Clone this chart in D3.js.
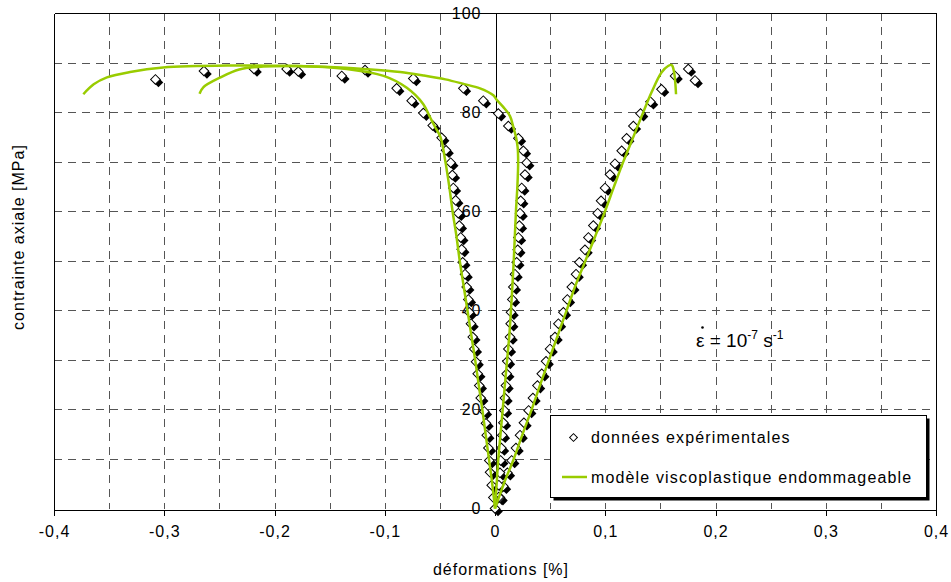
<!DOCTYPE html>
<html>
<head>
<meta charset="utf-8">
<script src="https://cdn.jsdelivr.net/npm/d3@7"></script>
<style>
html,body{margin:0;padding:0;background:#fff;}
svg text{font-family:"Liberation Sans",Arial,sans-serif;fill:#000;}
</style>
</head>
<body>
<svg id="chart" width="951" height="582"></svg>
<script>
// ---------- data ----------
const xTicks = [-0.4, -0.3, -0.2, -0.1, 0, 0.1, 0.2, 0.3, 0.4];
const yTicks = [0, 20, 40, 60, 80, 100];
const xGrid = [-0.35, -0.3, -0.25, -0.2, -0.15, -0.1, -0.05, 0.05, 0.1, 0.15, 0.2, 0.25, 0.3, 0.35];
const yGrid = [10, 20, 30, 40, 50, 60, 70, 80, 90];

// experimental points: axial branch
const expAxialStrain = [0, 0.0045, 0.0076, 0.0112, 0.0151, 0.019, 0.0227, 0.0262, 0.0305, 0.0344, 0.0385, 0.0424, 0.0463, 0.0499, 0.0544, 0.0575, 0.062, 0.0656, 0.0696, 0.0735, 0.0765, 0.0816, 0.0847, 0.0892, 0.0931, 0.0962, 0.0998, 0.1043, 0.1088, 0.1149, 0.1194, 0.1255, 0.132, 0.141, 0.151, 0.1633, 0.1753, 0.1814];
const expAxialStress = [0, 2.2, 4.5, 7.2, 9.7, 12.2, 14.8, 17.3, 19.8, 22.3, 24.8, 27.2, 29.7, 32.2, 34.6, 37.3, 39.6, 42.2, 44.7, 47.3, 49.7, 52.2, 54.7, 57.1, 59.6, 62.1, 64.7, 67.4, 69.6, 72.2, 74.7, 77.2, 79.7, 82.1, 84.6, 87.3, 88.7, 86.4];
// experimental points: volumetric branch
const expVolStrain = [0.0035, 0.0035, 0.0045, 0.0051, 0.0058, 0.0066, 0.0076, 0.0085, 0.009, 0.0099, 0.0106, 0.0112, 0.0121, 0.0136, 0.0142, 0.0145, 0.0157, 0.0166, 0.0181, 0.0197, 0.0206, 0.0212, 0.0221, 0.0227, 0.0233, 0.0242, 0.0272, 0.0287, 0.0257, 0.0212, 0.0121, 0.003, -0.0106, -0.0287, -0.0741, -0.1179, -0.1784, -0.2186, -0.308];
const expVolStress = [2.3, 4.7, 7.2, 9.7, 12.2, 14.8, 17.3, 19.8, 22.3, 24.8, 27.2, 29.7, 32.2, 34.6, 37.3, 39.6, 42.2, 44.7, 47.3, 49.7, 52.2, 54.7, 57.1, 59.6, 62.1, 64.7, 67.4, 69.8, 72.2, 74.7, 77.2, 79.7, 82.3, 84.8, 86.8, 88.5, 88.2, 88.7, 86.6];
// experimental points: lateral branch
const expLatStrain = [-0.0015, -0.003, -0.0045, -0.0052, -0.006, -0.0075, -0.0082, -0.0097, -0.013, -0.0143, -0.0157, -0.0172, -0.0188, -0.0202, -0.0218, -0.0233, -0.0242, -0.0257, -0.0272, -0.0293, -0.0302, -0.0311, -0.0324, -0.0333, -0.0357, -0.0378, -0.0387, -0.0402, -0.0444, -0.0484, -0.0565, -0.065, -0.0756, -0.0892, -0.139, -0.189, -0.264];
const expLatStress = [2.2, 4.7, 7.3, 9.7, 12.2, 14.8, 17.2, 19.6, 22.3, 24.8, 27.2, 29.6, 32.2, 34.6, 37.3, 39.6, 42.2, 44.7, 47.3, 49.7, 52.3, 54.7, 57.1, 59.6, 62.2, 64.7, 67.3, 69.8, 72.3, 74.8, 77.3, 79.8, 82.3, 84.8, 87.3, 88.7, 88.3];

// model curves
const modelAxialStrain = [0, 0.008, 0.017, 0.025, 0.0333, 0.041, 0.049, 0.057, 0.065, 0.073, 0.082, 0.091, 0.0998, 0.108, 0.1164, 0.1255, 0.1345, 0.142, 0.151, 0.157, 0.1603, 0.1625, 0.1635, 0.1642];
const modelAxialStress = [0, 5, 10, 15, 20, 25, 30, 35, 40, 45, 50, 55, 60, 65, 70, 75, 80, 84, 88, 89.3, 89.5, 88, 86, 83.6];
const modelVolStrain = [0, 0.0015, 0.003, 0.005, 0.007, 0.009, 0.011, 0.013, 0.0145, 0.0158, 0.017, 0.018, 0.019, 0.0203, 0.021, 0.0205, 0.019, 0.0166, 0.0136, 0.0076, 0.0015, -0.0015, -0.0136, -0.0287, -0.045, -0.065, -0.086, -0.119, -0.15, -0.18, -0.24, -0.301, -0.331, -0.352, -0.364, -0.3734];
const modelVolStress = [0, 5, 10, 15, 20, 25, 30, 35, 40, 45, 50, 55, 60, 65, 70, 73, 75, 77, 79.2, 81, 82.5, 83.4, 84.8, 85.7, 86.6, 87.4, 88.1, 88.7, 89.1, 89.3, 89.4, 89.0, 88.1, 87.0, 85.6, 83.6];
const modelLatStrain = [0, -0.0025, -0.0055, -0.0085, -0.0115, -0.0148, -0.018, -0.0215, -0.025, -0.0285, -0.032, -0.035, -0.0385, -0.0415, -0.045, -0.0495, -0.0544, -0.059, -0.065, -0.08, -0.101, -0.1345, -0.18, -0.21, -0.232, -0.249, -0.2646, -0.268];
const modelLatStress = [0, 5, 10, 15, 20, 25, 30, 35, 40, 45, 50, 55, 60, 65, 70, 75, 77, 79, 81.6, 84.9, 87.3, 88.7, 89.3, 89.2, 88.6, 87, 85, 83.7];

// ---------- drawing ----------
const svg = d3.select("#chart");
const x = d3.scaleLinear().domain([-0.4, 0.4]).range([54, 936]);
const y = d3.scaleLinear().domain([0, 100]).range([508.5, 13]);
const fmtX = v => (v === 0 ? "0" : (v < 0 ? "-" : "") + Math.abs(v).toFixed(1).replace(".", ","));
const fmtY = v => String(v);
const px = v => Math.round(v) + 0.5;

svg.append("rect").attr("width", 951).attr("height", 582).attr("fill", "#fff");

// grid
const grid = svg.append("g").attr("stroke", "#555").attr("stroke-width", 1)
  .attr("stroke-dasharray", "8,6").attr("shape-rendering", "crispEdges");
grid.selectAll("line.v").data(xGrid).join("line").attr("class", "v")
  .attr("x1", d => px(x(d))).attr("x2", d => px(x(d)))
  .attr("y1", y(100)).attr("y2", y(0));
grid.selectAll("line.h").data(yGrid).join("line").attr("class", "h")
  .attr("x1", x(-0.4)).attr("x2", x(0.4))
  .attr("y1", d => px(y(d))).attr("y2", d => px(y(d)));

// frame
const frame = svg.append("g").attr("stroke", "#000").attr("stroke-width", 1).attr("shape-rendering", "crispEdges");
frame.append("line").attr("x1", px(x(-0.4))).attr("x2", px(x(-0.4))).attr("y1", px(y(100))).attr("y2", px(y(0)));
frame.append("line").attr("x1", px(x(0.4))).attr("x2", px(x(0.4))).attr("y1", px(y(100))).attr("y2", px(y(0)));
frame.append("line").attr("x1", px(x(-0.4))).attr("x2", px(x(0.4))).attr("y1", px(y(100))).attr("y2", px(y(100)));

// x axis at y=0
const xAxis = d3.axisBottom(x).tickValues(xTicks).tickFormat(fmtX).tickSize(6).tickPadding(10);
const gx = svg.append("g").attr("transform", `translate(0,${px(y(0))})`).call(xAxis);
gx.select(".domain").attr("stroke", "#000").attr("shape-rendering", "crispEdges");
gx.selectAll(".tick line").attr("stroke", "#000").attr("shape-rendering", "crispEdges");
gx.selectAll(".tick text").attr("font-size", 16).attr("letter-spacing", "1px")
  .attr("font-family", "Liberation Sans, Arial, sans-serif").attr("fill", "#000");

// y axis at x=0
const yAxis = d3.axisLeft(y).tickValues(yTicks).tickFormat(fmtY).tickSize(5).tickPadding(9);
const gy = svg.append("g").attr("transform", `translate(${px(x(0))},0)`).call(yAxis);
gy.select(".domain").attr("stroke", "#000").attr("shape-rendering", "crispEdges");
gy.selectAll(".tick line").attr("stroke", "#000").attr("shape-rendering", "crispEdges");
gy.selectAll(".tick text").attr("font-size", 16).attr("letter-spacing", "1px")
  .attr("font-family", "Liberation Sans, Arial, sans-serif").attr("fill", "#000");

// axis titles
svg.append("text").attr("x", 501).attr("y", 575).attr("text-anchor", "middle")
  .attr("font-size", 16).attr("letter-spacing", "1px").text("déformations [%]");
svg.append("text").attr("transform", "translate(24,237) rotate(-90)").attr("text-anchor", "middle")
  .attr("font-size", 16).attr("letter-spacing", "1px").text("contrainte axiale [MPa]");

// experimental markers
const expPoints = []
  .concat(expAxialStrain.map((v, i) => [v, expAxialStress[i]]))
  .concat(expVolStrain.map((v, i) => [v, expVolStress[i]]))
  .concat(expLatStrain.map((v, i) => [v, expLatStress[i]]));
const diamond = d3.symbol().type(d3.symbolSquare).size(46)();
const mk = svg.append("g");
mk.selectAll("path.sh").data(expPoints).join("path").attr("class", "sh")
  .attr("d", diamond).attr("fill", "#000")
  .attr("transform", d => `translate(${x(d[0]) + 3},${y(d[1]) + 3}) rotate(45)`);
mk.selectAll("path.fg").data(expPoints).join("path").attr("class", "fg")
  .attr("d", diamond).attr("fill", "#fff").attr("stroke", "#000").attr("stroke-width", 1)
  .attr("transform", d => `translate(${x(d[0])},${y(d[1])}) rotate(45)`);

// model curves
const line = d3.line().x(d => x(d[0])).y(d => y(d[1])).curve(d3.curveCatmullRom.alpha(0.5));
const curves = [
  modelAxialStrain.map((v, i) => [v, modelAxialStress[i]]),
  modelVolStrain.map((v, i) => [v, modelVolStress[i]]),
  modelLatStrain.map((v, i) => [v, modelLatStress[i]])
];
svg.append("g").selectAll("path").data(curves).join("path")
  .attr("d", line).attr("fill", "none").attr("stroke", "#99CC00").attr("stroke-width", 2.5)
  .attr("stroke-linejoin", "round").attr("stroke-linecap", "butt");

// legend
const lg = svg.append("g");
lg.append("rect").attr("x", 553.5).attr("y", 418.5).attr("width", 376).attr("height", 82).attr("fill", "#000");
lg.append("rect").attr("x", 550.5).attr("y", 415.5).attr("width", 376).attr("height", 82)
  .attr("fill", "#fff").attr("stroke", "#000").attr("stroke-width", 1);
lg.append("path").attr("d", d3.symbol().type(d3.symbolSquare).size(30)())
  .attr("transform", "translate(573.5,437.5) rotate(45)")
  .attr("fill", "#fff").attr("stroke", "#000").attr("stroke-width", 1);
lg.append("line").attr("x1", 562).attr("x2", 587).attr("y1", 477).attr("y2", 477)
  .attr("stroke", "#99CC00").attr("stroke-width", 2.5);
lg.append("text").attr("x", 591).attr("y", 443).attr("font-size", 16).attr("letter-spacing", "1.15px")
  .text("données expérimentales");
lg.append("text").attr("x", 591).attr("y", 483).attr("font-size", 16).attr("letter-spacing", "1.15px")
  .text("modèle viscoplastique endommageable");

// annotation: strain rate
const ann = svg.append("text").attr("x", 696).attr("y", 347).attr("font-size", 19);
ann.append("tspan").text("ε = 10");
ann.append("tspan").attr("font-size", 12).attr("dy", -8).text("-7");
ann.append("tspan").attr("dy", 8).text(" s");
ann.append("tspan").attr("font-size", 12).attr("dy", -8).text("-1");
svg.append("circle").attr("cx", 702.5).attr("cy", 327.5).attr("r", 1.3).attr("fill", "#000");
</script>
</body>
</html>
